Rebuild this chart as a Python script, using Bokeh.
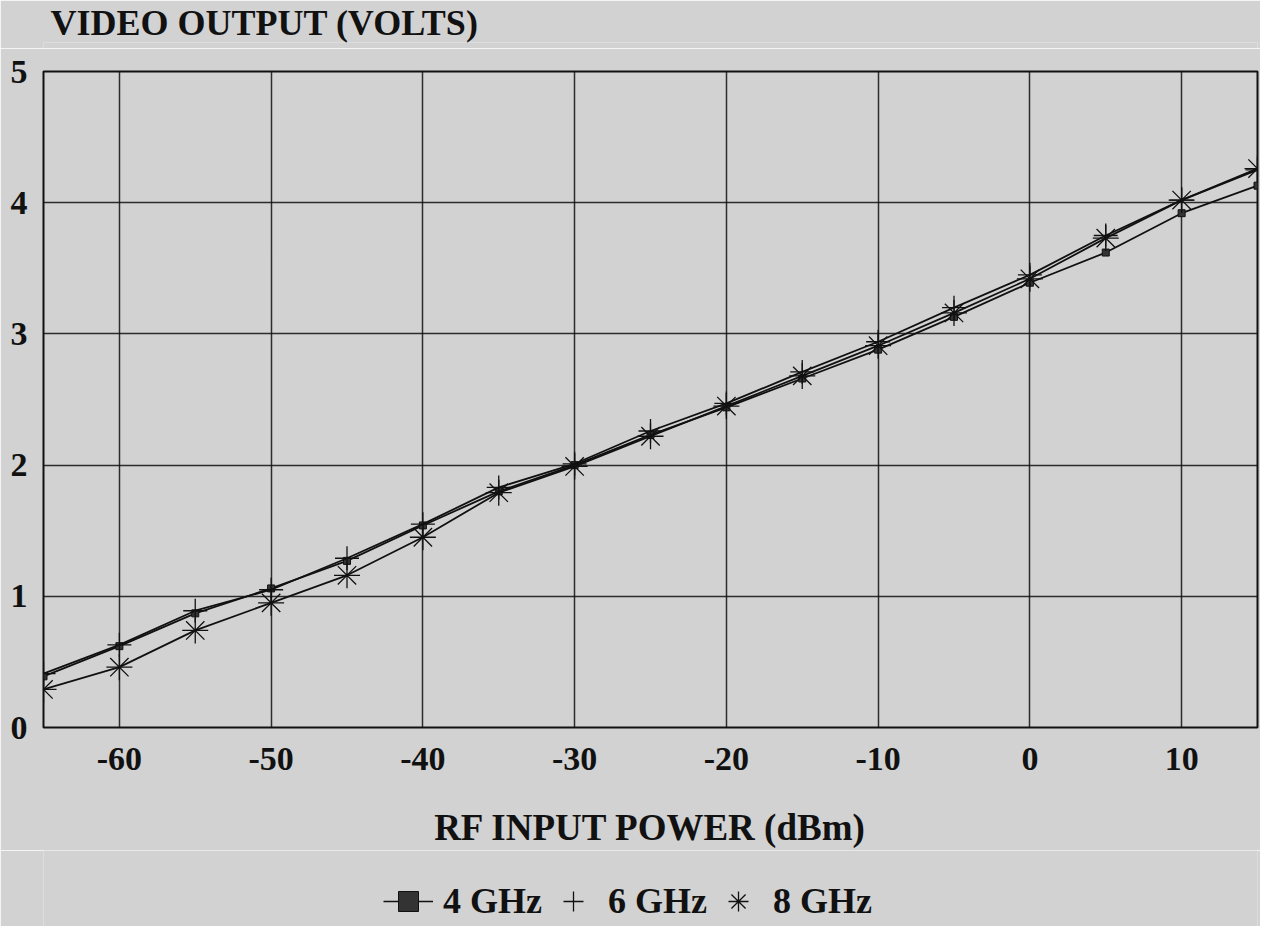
from bokeh.plotting import figure
from bokeh.layouts import column
from bokeh.models import Legend, LegendItem, FixedTicker, ColumnDataSource, Range1d
from bokeh.embed import file_html
from bokeh.resources import INLINE

rf_power = [-65, -60, -55, -50, -45, -40, -35, -30, -25, -20, -15, -10, -5, 0, 5, 10, 15]
out_4ghz = [0.39, 0.62, 0.87, 1.06, 1.27, 1.54, 1.80, 2.00, 2.23, 2.44, 2.66, 2.88, 3.13, 3.39, 3.62, 3.92, 4.13]
out_6ghz = [0.41, 0.63, 0.89, 1.05, 1.29, 1.55, 1.83, 2.01, 2.26, 2.47, 2.71, 2.94, 3.20, 3.45, 3.75, 4.02, 4.25]
out_8ghz = [0.29, 0.46, 0.74, 0.95, 1.16, 1.45, 1.79, 1.99, 2.22, 2.45, 2.68, 2.91, 3.16, 3.42, 3.73, 4.02, 4.26]
x_ticks = [-60, -50, -40, -30, -20, -10, 0, 10]
y_ticks = [0, 1, 2, 3, 4, 5]
series_labels = ["4 GHz", "6 GHz", "8 GHz"]
y_title = "VIDEO OUTPUT (VOLTS)"
x_title = "RF INPUT POWER (dBm)"

FONT = "Liberation Serif"
BG = "#d2d2d2"
INK = "#111111"
W = 1260

# ---- title strip ----
pt = figure(width=W, height=48, output_backend="svg", toolbar_location=None,
            x_axis_type=None, y_axis_type=None, min_border=0)
pt.outline_line_color = None
pt.background_fill_color = BG
pt.border_fill_color = BG
pt.title.text = y_title
pt.title.text_font = FONT
pt.title.text_font_style = "bold"
pt.title.text_font_size = "36px"
pt.title.text_color = INK
pt.title.align = "left"
pt.title.offset = 7
pt.title.standoff = 0

# ---- main chart ----
p = figure(frame_width=1214, frame_height=656, x_range=(-65, 15), y_range=(0, 5),
           output_backend="svg", toolbar_location=None,
           min_border_left=43, min_border_right=3, min_border_top=23, min_border_bottom=0)
p.background_fill_color = BG
p.border_fill_color = BG
p.outline_line_color = INK
p.outline_line_width = 2

p.xaxis.ticker = FixedTicker(ticks=x_ticks)
p.yaxis.ticker = FixedTicker(ticks=y_ticks)
p.xaxis.major_label_overrides = {t: str(t) for t in x_ticks}
for ax in (p.xaxis[0], p.yaxis[0]):
    ax.axis_line_color = None
    ax.major_tick_line_color = None
    ax.minor_tick_line_color = None
    ax.major_label_text_font = FONT
    ax.major_label_text_font_style = "bold"
    ax.major_label_text_font_size = "34px"
    ax.major_label_text_color = INK
p.xaxis.major_label_standoff = 14
p.yaxis.major_label_standoff = 10
p.xaxis.axis_label = x_title
p.xaxis.axis_label_text_font = FONT
p.xaxis.axis_label_text_font_style = "bold"
p.xaxis.axis_label_text_font_size = "37px"
p.xaxis.axis_label_text_color = INK
p.xaxis.axis_label_standoff = 34

p.xgrid.grid_line_color = INK
p.ygrid.grid_line_color = INK
p.xgrid.grid_line_width = 1.5
p.ygrid.grid_line_width = 1.5
p.xgrid.grid_line_alpha = 0.85
p.ygrid.grid_line_alpha = 0.85

src = ColumnDataSource(dict(x=rf_power, a=out_4ghz, b=out_6ghz, c=out_8ghz))

p.line("x", "a", source=src, line_color=INK, line_width=1.8)
p.scatter("x", "a", source=src, marker="square", size=7, fill_color="#333333", line_color=INK)
p.line("x", "b", source=src, line_color=INK, line_width=1.8)
p.scatter("x", "b", source=src, marker="cross", size=24, line_color=INK, line_width=1.3)
p.line("x", "c", source=src, line_color=INK, line_width=1.8)
p.scatter("x", "c", source=src, marker="asterisk", size=26, line_color=INK, line_width=1.3)

# ---- legend strip (its ranges keep the sample glyphs out of view; only the legend shows) ----
pl = figure(width=W, height=76, output_backend="svg", toolbar_location=None,
            x_axis_type=None, y_axis_type=None, min_border=0,
            x_range=Range1d(1000, 1001), y_range=Range1d(1000, 1001))
pl.outline_line_color = None
pl.background_fill_color = BG
pl.border_fill_color = BG
g1l = pl.line("x", "a", source=src, line_color=INK, line_width=1.5)
g1m = pl.scatter("x", "a", source=src, marker="square", size=7, fill_color="#333333", line_color=INK)
g2 = pl.scatter("x", "b", source=src, marker="cross", size=24, line_color=INK, line_width=1.3)
g3 = pl.scatter("x", "c", source=src, marker="asterisk", size=26, line_color=INK, line_width=1.3)

legend = Legend(items=[
    LegendItem(label=series_labels[0], renderers=[g1l, g1m]),
    LegendItem(label=series_labels[1], renderers=[g2]),
    LegendItem(label=series_labels[2], renderers=[g3]),
], orientation="horizontal", location=(340, 0))
legend.background_fill_alpha = 0
legend.border_line_color = None
legend.label_text_font = FONT
legend.label_text_font_style = "bold"
legend.label_text_font_size = "36px"
legend.label_text_color = INK
legend.glyph_width = 50
legend.glyph_height = 50
legend.spacing = 6
legend.label_standoff = 10
legend.label_height = 50
legend.margin = 0
legend.padding = 0
pl.add_layout(legend, "center")

layout = column(pt, p, pl, spacing=0)
open("out.html", "w").write(file_html(layout, INLINE))
